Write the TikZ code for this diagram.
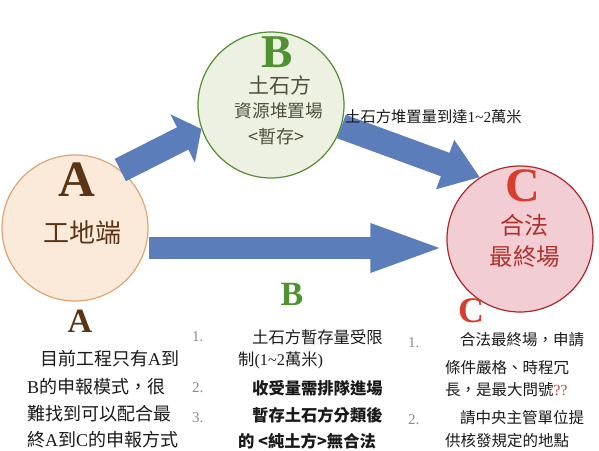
\documentclass[tikz,border=0pt]{standalone}
\usepackage{fontspec}
\setmainfont{Liberation Serif}
\newfontfamily\zh{Noto Sans CJK TC}
\usetikzlibrary{arrows.meta,positioning}

\definecolor{arrowblue}{RGB}{91,126,187}
\definecolor{Afill}{RGB}{251,234,218}
\definecolor{Adraw}{RGB}{222,165,115}
\definecolor{Abrown}{RGB}{90,52,20}
\definecolor{Bfill}{RGB}{236,241,225}
\definecolor{Bdraw}{RGB}{85,140,50}
\definecolor{Bgreen}{RGB}{80,145,50}
\definecolor{Btext}{RGB}{80,80,60}
\definecolor{Cfill}{RGB}{242,205,212}
\definecolor{Cdraw}{RGB}{170,40,45}
\definecolor{Cred}{RGB}{215,60,45}
\definecolor{Ctext}{RGB}{175,50,45}
\definecolor{numgrey}{RGB}{140,140,140}
\definecolor{qred}{RGB}{220,60,60}

\newcommand\lat[1]{{\rmfamily #1}}

\tikzset{
  site/.style={circle, minimum size=146pt, inner sep=0pt, line width=1.2pt},
  bigletter/.style={font=\rmfamily\bfseries\fontsize{#1}{#1}\selectfont, inner sep=0pt},
  zhtext/.style={font=\zh\fontsize{#1}{#1}\selectfont, inner sep=0pt},
  blockarrow/.style={draw=arrowblue, line width=#1},
  txt/.style={zhtext=#1, anchor=west, text=black!90},
  num/.style={anchor=west, inner sep=0pt, text=numgrey, font=\rmfamily\fontsize{15}{15}\selectfont}
}

\begin{document}
\begin{tikzpicture}[x=1pt,y=-1pt]
\useasboundingbox (0,0) rectangle (599,450);

\node[site, draw=Adraw, fill=Afill]		(A)		at (75,228)	{};
\node[site, draw=Bdraw, fill=Bfill]		(B)		at (271,105)	{};
\node[site, draw=Cdraw, fill=Cfill]		(C)		at (520,239)	{};

\node[bigletter=51, text=Abrown]	(A_l)	at (77,180)	{A};
\node[zhtext=26, text=Abrown]		(A_t)	at (82,233)	{工地端};

\node[bigletter=47, text=Bgreen]	(B_l)	at (277,52)	{B};
\node[zhtext=21, text=Btext]		(B_t1)	at (280,85)	{土石方};
\node[zhtext=17.7, text=Btext]		(B_t2)	at (279,111)	{資源堆置場};
\node[zhtext=18, text=Btext]		(B_t3)	at (276,137)	{<暫存>};

\node[bigletter=48, text=Cred]		(C_l)	at (523,186)	{C};
\node[zhtext=24, text=Ctext]		(C_t1)	at (524,225)	{合法};
\node[zhtext=23.5, text=Ctext]		(C_t2)	at (525,257)	{最終場};

% flows
\draw[blockarrow=25pt, -{Triangle[length=21pt,width=53pt]}] (A.52) -- (B.199);
\draw[blockarrow=25pt, -{Triangle[length=37pt,width=50pt]}] (B.-17) -- (C.123);
\draw[blockarrow=22pt, -{Triangle[length=76pt,width=43pt]}] ([yshift=-20pt]A.east) -- ([yshift=-9pt]C.west);

\node[txt=15.3]	(BC_l)	at (345,117)	{土石方堆置量到達\lat{1\textasciitilde 2}萬米};

% notes below
\node[bigletter=34, text=Abrown]	(A_b)	at (80,321)	{A};
\node[bigletter=34, text=Bgreen]	(B_b)	at (292,294)	{B};
\node[bigletter=36, text=Cred]		(C_b)	at (471,311)	{C};

\foreach \n/\x/\y/\t in {1/40/359/{目前工程只有\lat{A}到}, 2/27/387/{\lat{B}的申報模式，很},
    3/27/414/{難找到可以配合最}, 4/27/440/{終\lat{A}到\lat{C}的申報方式}}
  \node[txt=18]	(la_\n)	at (\x,\y)	{\t};

\foreach \n/\x/\y/\t in {1/252/337/{土石方暫存量受限}, 2/238/360/{制\lat{(1\textasciitilde 2}萬米\lat{)}},
    3/252/388/{\bfseries 收受量需排隊進場}, 4/252/415/{\bfseries 暫存土石方分類後},
    5/238/441/{\bfseries 的 <純土方>無合法}}
  \node[txt=16.3]	(lb_\n)	at (\x,\y)	{\t};

\foreach \n/\x/\y/\t in {1/460/340/{合法最終場，申請}, 2/445/368/{條件嚴格、時程冗},
    3/445/390/{長，是最大問號\textcolor{qred}{\lat{??}}}, 4/460/418/{請中央主管單位提},
    5/445/441/{供核發規定的地點}}
  \node[txt=15.5]	(lc_\n)	at (\x,\y)	{\t};

\node[num]	(nb_1)	at (192,337)	{1.};
\node[num]	(nb_2)	at (192,388)	{2.};
\node[num]	(nb_3)	at (192,418)	{3.};
\node[num]	(nc_1)	at (408,343)	{1.};
\node[num]	(nc_2)	at (408,420)	{2.};
\end{tikzpicture}
\end{document}
